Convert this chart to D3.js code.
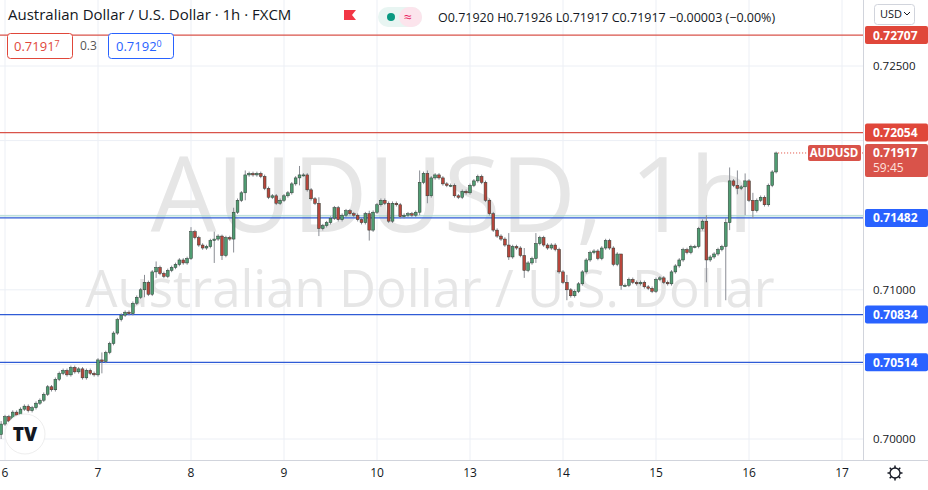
<!DOCTYPE html>
<html><head><meta charset="utf-8">
<script src="https://cdn.jsdelivr.net/npm/d3@7/dist/d3.min.js"></script>
<style>body{margin:0;background:#fff;font-family:"Open Sans","Noto Sans",sans-serif}</style>
</head><body><svg id="c" width="928" height="490"></svg>
<script>
const closes=[0.7010,0.7015,0.7012,0.7018,0.7016,0.7020,0.7022,0.7019,0.7021,0.7024,
0.7026,0.7030,0.7035,0.7033,0.7040,0.7044,0.7046,0.7043,0.7048,0.7045,0.7047,0.7041,0.7046,0.7044,0.7043,
0.7053,0.7052,0.7058,0.7064,0.7071,0.7080,0.7083,0.7085,0.7084,0.7091,0.7095,0.7100,0.7105,0.7097,0.7112,0.7115,0.7111,0.7109,0.7113,0.7115,0.7117,0.7120,0.7118,0.7121,
0.7139,0.7135,0.7130,0.7128,0.7129,0.7133,0.7134,0.7136,0.7123,0.7135,0.7134,0.7152,0.7160,0.7165,0.7177,0.7178,0.7177,0.7178,0.7176,0.7168,0.7162,0.7163,0.7158,0.7160,
0.7163,0.7165,0.7171,0.7175,0.7177,0.7177,0.7167,0.7161,0.7158,0.7141,0.7143,0.7145,0.7148,0.7155,0.7147,0.7150,0.7153,0.7151,0.7150,0.7147,0.7145,0.7151,0.7140,0.7152,
0.7157,0.7160,0.7158,0.7146,0.7158,0.7157,0.7149,0.7150,0.7151,0.7150,0.7152,0.7172,0.7178,0.7163,0.7175,0.7177,0.7175,0.7171,0.7170,0.7170,0.7163,0.7162,0.7166,0.7165,
0.7170,0.7173,0.7176,0.7172,0.7160,0.7151,0.7140,0.7136,0.7134,0.7130,0.7122,0.7129,0.7128,0.7123,0.7113,0.7118,0.7121,0.7131,0.7135,0.7130,0.7128,0.7130,0.7127,0.7112,
0.7105,0.7100,0.7096,0.7099,0.7104,0.7112,0.7120,0.7125,0.7126,0.7121,0.7128,0.7133,0.7128,0.7117,0.7124,0.7103,0.7103,0.7107,0.7105,0.7104,0.7105,0.7102,0.7101,0.7099,
0.7107,0.7108,0.7105,0.7104,0.7112,0.7116,0.7120,0.7127,0.7125,0.7129,0.7129,0.7141,0.7146,0.7120,0.7122,0.7124,0.7127,0.7129,0.7145,0.7173,0.7170,0.7168,0.7169,0.7173,
0.7160,0.7153,0.7160,0.7162,0.7157,0.7170,0.7179,0.71917];
const firstOpen=0.7003;
// notable wick extremes [index, high, low]
const wicks=[[0,0.7012,0.7000],[26,0.7058,0.7044],[37,0.7110,0.7095],[40,0.7119,0.7108],[49,0.7142,0.7120],[55,0.7139,0.7118],[57,0.7137,0.7120],[60,0.7155,0.7125],[63,0.7180,0.7160],[77,0.7183,0.7170],[82,0.7162,0.7136],[95,0.7153,0.7133],[108,0.7180,0.7150],[110,0.7180,0.7158],[131,0.7138,0.7120],[135,0.7128,0.7108],[138,0.7138,0.7118],[146,0.7110,0.7093],[160,0.7123,0.7100],[182,0.7150,0.7105],[187,0.7148,0.7093],[188,0.7182,0.7140],[190,0.7180,0.7164],[192,0.7178,0.7150],[194,0.7165,0.7148],[200,0.71926,0.7178]];
const dayLabels=["6","7","8","9","10","13","14","15","16","17"];
const priceTicks=[0.700,0.705,0.710,0.715,0.720,0.725];
const priceTickLabels=["0.70000","","0.71000","","","0.72500"];
const levels=[{v:0.72707,t:"0.72707",c:"red"},{v:0.72054,t:"0.72054",c:"red"},{v:0.71482,t:"0.71482",c:"blue"},{v:0.70834,t:"0.70834",c:"blue"},{v:0.70514,t:"0.70514",c:"blue"}];

const svg=d3.select("#c");
const W=863,H=460;
const y=d3.scaleLinear().domain([0.70,0.725]).range([439,66]);
const x=d3.scaleLinear().domain([1,217]).range([5,842]);
const RED="#e0473a",BLUE="#2f5bd6";
const g=svg.append("g");
g.selectAll(".vg").data(dayLabels).join("line").attr("x1",(d,i)=>x(1+24*i)).attr("x2",(d,i)=>x(1+24*i)).attr("y1",0).attr("y2",H).attr("stroke","#eceff5");
g.selectAll(".hg").data(priceTicks).join("line").attr("x1",0).attr("x2",W).attr("y1",d=>y(d)).attr("y2",d=>y(d)).attr("stroke","#eceff5");
svg.append("text").attr("x",452).attr("y",232).attr("text-anchor","middle").attr("font-size",104).attr("fill","#e6e6e6").text("AUDUSD, 1h");
svg.append("text").attr("x",430).attr("y",307).attr("text-anchor","middle").attr("font-size",51).attr("fill","#e6e6e6").text("Australian Dollar / U.S. Dollar");
levels.forEach(l=>{
 svg.append("line").attr("x1",0).attr("x2",W).attr("y1",y(l.v)).attr("y2",y(l.v)).attr("stroke",l.c=="red"?"#d9534a":BLUE).attr("stroke-width",1.2);
});
svg.append("line").attr("x1",0).attr("x2",W).attr("y1",y(0.71482)-2).attr("y2",y(0.71482)-2).attr("stroke","#9fd6cc").attr("stroke-width",1);
const data=closes.map((c,i)=>{const o=i?closes[i-1]:firstOpen;return{i,o,c,h:Math.max(o,c)+0.00012,l:Math.min(o,c)-0.00012};});
wicks.forEach(([i,h,l])=>{data[i].h=Math.max(h,data[i].o,data[i].c);data[i].l=Math.min(l,data[i].o,data[i].c);});
const cg=svg.append("g");
cg.selectAll(".w").data(data).join("line").attr("x1",d=>x(d.i)).attr("x2",d=>x(d.i)).attr("y1",d=>y(d.h)).attr("y2",d=>y(d.l)).attr("stroke","#8a8d94").attr("stroke-width",1);
cg.selectAll(".b").data(data).join("rect").attr("x",d=>x(d.i)-1.4).attr("width",2.8)
 .attr("y",d=>y(Math.max(d.o,d.c))).attr("height",d=>Math.max(1,Math.abs(y(d.o)-y(d.c))))
 .attr("fill",d=>d.c>=d.o?"#4f9c72":"#b8453b").attr("stroke","#2c3a33").attr("stroke-width",0.5);
const last=data[data.length-1];
svg.append("line").attr("x1",x(last.i)+2).attr("x2",W).attr("y1",y(last.c)).attr("y2",y(last.c)).attr("stroke",RED).attr("stroke-dasharray","1,2");
svg.append("rect").attr("x",W).attr("y",0).attr("width",65).attr("height",490).attr("fill","#fff");
svg.append("line").attr("x1",W+0.5).attr("x2",W+0.5).attr("y1",0).attr("y2",H).attr("stroke","#d1d4dc");
svg.append("line").attr("x1",0).attr("x2",928).attr("y1",H+0.5).attr("y2",H+0.5).attr("stroke","#d1d4dc");
priceTicks.forEach((p,i)=>{if(priceTickLabels[i])svg.append("text").attr("x",873).attr("y",y(p)+4).attr("font-size",11.5).attr("fill","#131722").text(priceTickLabels[i]);});
levels.forEach(l=>{
 svg.append("rect").attr("x",865).attr("y",y(l.v)-9).attr("width",63).attr("height",18).attr("rx",2).attr("fill",l.c=="red"?RED:"#2962ff");
 svg.append("text").attr("x",873).attr("y",y(l.v)+4.5).attr("font-size",12).attr("font-weight","bold").attr("fill","#fff").text(l.t);
});
svg.append("rect").attr("x",865).attr("y",y(last.c)-9).attr("width",63).attr("height",33).attr("rx",2).attr("fill","#d9534a");
svg.append("text").attr("x",873).attr("y",y(last.c)+4.5).attr("font-size",12).attr("font-weight","bold").attr("fill","#fff").text("0.71917");
svg.append("text").attr("x",873).attr("y",y(last.c)+19).attr("font-size",12).attr("fill","#fde0dc").text("59:45");
svg.append("rect").attr("x",808).attr("y",y(last.c)-8).attr("width",53).attr("height",16).attr("rx",2).attr("fill","#d9534a");
svg.append("text").attr("x",834).attr("y",y(last.c)+4.5).attr("text-anchor","middle").attr("font-size",11.5).attr("font-weight","bold").attr("fill","#fff").text("AUDUSD");
svg.append("rect").attr("x",874.5).attr("y",4.5).attr("width",40).attr("height",20).attr("rx",3).attr("fill","#fff").attr("stroke","#d1d4dc");
svg.append("text").attr("x",880).attr("y",18).attr("font-size",11).attr("fill","#131722").text("USD");
svg.append("path").attr("d","M904,12 l3,3 l3,-3").attr("fill","none").attr("stroke","#131722");
dayLabels.forEach((d,i)=>svg.append("text").attr("x",x(1+24*i)).attr("y",477).attr("text-anchor","middle").attr("font-size",12).attr("fill","#131722").text(d));
const gear=svg.append("g").attr("transform","translate(895,473)");
gear.append("circle").attr("r",5).attr("fill","none").attr("stroke","#131722").attr("stroke-width",1.3);
for(let k=0;k<8;k++){const a=k*Math.PI/4;gear.append("line").attr("x1",5*Math.cos(a)).attr("y1",5*Math.sin(a)).attr("x2",7.5*Math.cos(a)).attr("y2",7.5*Math.sin(a)).attr("stroke","#131722").attr("stroke-width",1.5);}
svg.append("text").attr("x",8).attr("y",20).attr("font-size",15).attr("fill","#131722").text("Australian Dollar / U.S. Dollar · 1h · FXCM");
svg.append("path").attr("d","M344,10 h12 l-4,5 l4,5 h-12 z").attr("fill","#f23645");
svg.append("rect").attr("x",378).attr("y",7).attr("width",44).attr("height",20).attr("rx",10).attr("fill","#e8f5f2");
svg.append("rect").attr("x",399).attr("y",7).attr("width",23).attr("height",20).attr("rx",10).attr("fill","#fce4ec");
svg.append("circle").attr("cx",391).attr("cy",17).attr("r",4).attr("fill","#089981");
svg.append("text").attr("x",404).attr("y",22).attr("font-size",14).attr("fill","#e91e63").text("≈");
svg.append("text").attr("x",438).attr("y",22).attr("font-size",12.5).attr("fill","#131722").text("O0.71920  H0.71926  L0.71917  C0.71917  −0.00003 (−0.00%)");
svg.append("rect").attr("x",7.5).attr("y",33.5).attr("width",65).attr("height",25).attr("rx",3).attr("fill","#fff").attr("stroke",RED);
svg.append("text").attr("x",14).attr("y",51).attr("font-size",13).attr("fill",RED).text("0.7191").append("tspan").attr("font-size",9).attr("dy",-4).text("7");
svg.append("text").attr("x",80).attr("y",50).attr("font-size",12).attr("fill","#555").text("0.3");
svg.append("rect").attr("x",108.5).attr("y",33.5).attr("width",65).attr("height",25).attr("rx",3).attr("fill","#fff").attr("stroke","#2962ff");
svg.append("text").attr("x",116).attr("y",51).attr("font-size",13).attr("fill","#2962ff").text("0.7192").append("tspan").attr("font-size",9).attr("dy",-4).text("0");
svg.append("circle").attr("cx",25).attr("cy",434).attr("r",20).attr("fill","#fff").attr("stroke","#eee");
svg.append("text").attr("x",25).attr("y",441).attr("text-anchor","middle").attr("font-size",19).attr("font-weight","900").attr("fill","#131722").text("TV");
</script></body></html>
